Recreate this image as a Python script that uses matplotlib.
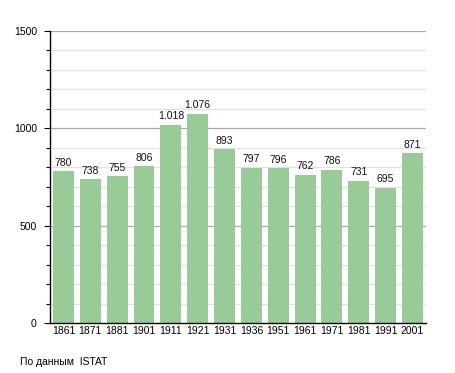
import matplotlib
matplotlib.use('Agg')
import matplotlib.pyplot as plt
import numpy as np

plt.rcParams['font.family'] = ['Liberation Sans', 'DejaVu Sans']

years = ['1861', '1871', '1881', '1901', '1911', '1921', '1931',
         '1936', '1951', '1961', '1971', '1981', '1991', '2001']
population = [780, 738, 755, 806, 1018, 1076, 893, 797, 796, 762, 786, 731, 695, 871]
labels = ['780', '738', '755', '806', '1.018', '1.076', '893',
          '797', '796', '762', '786', '731', '695', '871']

fig = plt.figure(figsize=(4.55, 3.73), dpi=100)
ax = fig.add_axes([0.110, 0.134, 0.826, 0.783])

x = np.arange(len(years))
ax.bar(x, population, width=0.78, color='#98cb97', zorder=2)
for xi, v, lab in zip(x, population, labels):
    ax.text(xi, v + 18, lab, ha='center', va='bottom', fontsize=7.5, color='#111111', zorder=3)

ax.set_xlim(-0.5, len(years) - 0.5)
ax.set_ylim(0, 1500)
ax.set_xticks(x)
ax.set_xticklabels(years, fontsize=7.5)
ax.set_yticks([0, 500, 1000, 1500])
ax.set_yticks(np.arange(0, 1501, 100), minor=True)
ax.tick_params(axis='y', which='major', labelsize=7.5, length=4, width=0.8, pad=5.5)
ax.tick_params(axis='y', which='minor', length=3, width=0.8)
ax.tick_params(axis='x', length=0, pad=2)

for v in range(100, 1501, 100):
    c = '#aaaaaa' if v % 500 == 0 else '#e2e2e2'
    ax.axhline(v, color=c, linewidth=0.9, zorder=1)

for s in ['top', 'right']:
    ax.spines[s].set_visible(False)
ax.spines['left'].set_linewidth(1.0)
ax.spines['bottom'].set_linewidth(1.0)

fig.text(0.044, 0.03, 'По данным  ISTAT', fontsize=7.5, ha='left', va='center')

fig.savefig('out.png', dpi=100)
